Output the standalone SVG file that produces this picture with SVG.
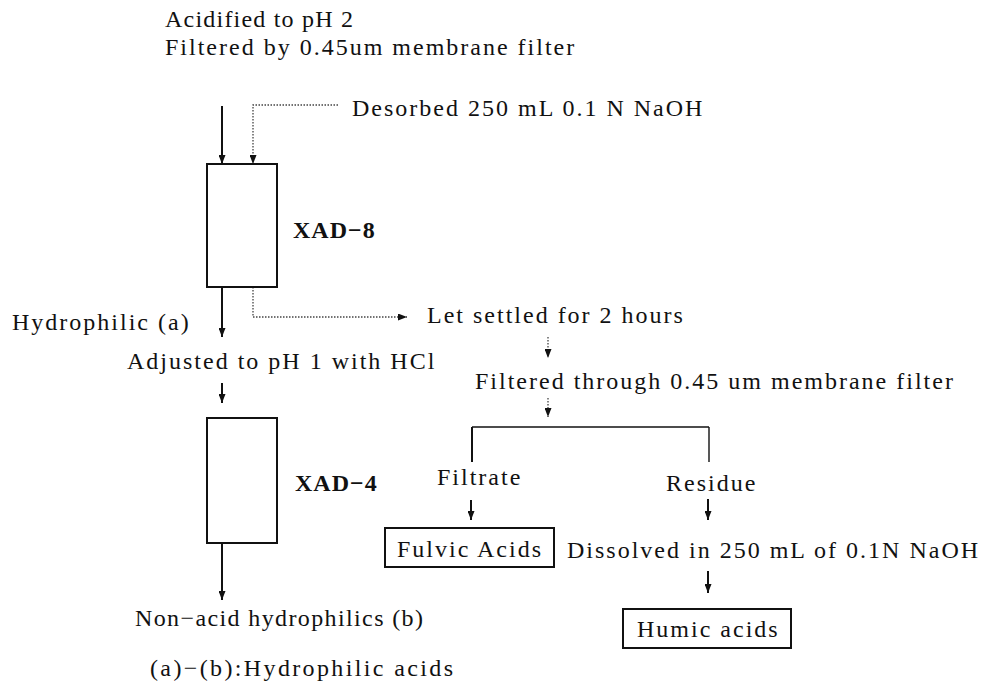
<svg xmlns="http://www.w3.org/2000/svg" width="995" height="690" viewBox="0 0 995 690">
<style>
text{font-family:"Liberation Serif","DejaVu Serif",serif;font-size:24px;fill:#111;letter-spacing:2px}
.b{font-weight:bold;letter-spacing:1px}
.box{fill:#fff;stroke:#111;stroke-width:2}
.sol{stroke:#111;stroke-width:2;fill:none}
.dot{stroke:#444;stroke-width:1.3;stroke-dasharray:1.5 1.5;fill:none}
.thin{stroke:#111;stroke-width:1.4;fill:none}
</style>
<defs>
<marker id="ah" viewBox="0 0 9 7" refX="9" refY="3.5" markerWidth="9" markerHeight="7" markerUnits="userSpaceOnUse" orient="auto">
<path d="M0,0 L9,3.5 L0,7 z" fill="#111"/>
</marker>
</defs>
<rect width="995" height="690" fill="#fff"/>
<g id="connectors">
<line class="sol" x1="222" y1="106" x2="222" y2="164" marker-end="url(#ah)"/>
<polyline class="dot" points="338,105 253,105 253,164" marker-end="url(#ah)"/>
<line class="sol" x1="222" y1="287" x2="222" y2="337" marker-end="url(#ah)"/>
<polyline class="dot" points="253,287 253,317 407,317" marker-end="url(#ah)"/>
<line class="sol" x1="222" y1="383" x2="222" y2="403" marker-end="url(#ah)"/>
<line class="sol" x1="222" y1="543" x2="222" y2="600" marker-end="url(#ah)"/>
<line class="dot" x1="548" y1="337" x2="548" y2="358" marker-end="url(#ah)"/>
<line class="dot" x1="548" y1="398" x2="548" y2="417" marker-end="url(#ah)"/>
<line class="thin" x1="472" y1="427" x2="709" y2="427"/>
<line class="sol" x1="472" y1="427" x2="472" y2="462"/>
<line class="thin" x1="709" y1="427" x2="709" y2="462"/>
<line class="sol" x1="471" y1="500" x2="471" y2="520" marker-end="url(#ah)"/>
<line class="sol" x1="708" y1="499" x2="708" y2="520" marker-end="url(#ah)"/>
<line class="sol" x1="708" y1="571" x2="708" y2="593" marker-end="url(#ah)"/>
</g>
<g id="n-acidified"><text x="165" y="27" textLength="190" lengthAdjust="spacing">Acidified to pH 2</text></g>
<g id="n-filtered1"><text x="165" y="55">Filtered by 0.45um membrane filter</text></g>
<g id="n-desorbed"><text x="352" y="116">Desorbed 250 mL 0.1 N NaOH</text></g>
<g id="n-xad8"><rect class="box" x="207" y="164" width="70" height="123"/><text class="b" x="293" y="238">XAD−8</text></g>
<g id="n-hydrophilic"><text x="12" y="330">Hydrophilic (a)</text></g>
<g id="n-settled"><text x="427" y="323">Let settled for 2 hours</text></g>
<g id="n-adjusted"><text x="127" y="369">Adjusted to pH 1 with HCl</text></g>
<g id="n-filtered2"><text x="475" y="389">Filtered through 0.45 um membrane filter</text></g>
<g id="n-xad4"><rect class="box" x="207" y="418" width="70" height="125"/><text class="b" x="295" y="491">XAD−4</text></g>
<g id="n-filtrate"><text x="437" y="485">Filtrate</text></g>
<g id="n-residue"><text x="666" y="491">Residue</text></g>
<g id="n-fulvic"><rect class="box" x="385" y="528" width="169" height="39"/><text x="397" y="557">Fulvic Acids</text></g>
<g id="n-dissolved"><text x="567" y="558">Dissolved in 250 mL of 0.1N NaOH</text></g>
<g id="n-humic"><rect class="box" x="623" y="609" width="168" height="39"/><text x="637" y="637">Humic acids</text></g>
<g id="n-nonacid"><text x="135" y="626" textLength="290" lengthAdjust="spacing">Non−acid hydrophilics (b)</text></g>
<g id="n-note"><text x="150" y="676" textLength="305" lengthAdjust="spacing">(a)−(b):Hydrophilic acids</text></g>
</svg>
